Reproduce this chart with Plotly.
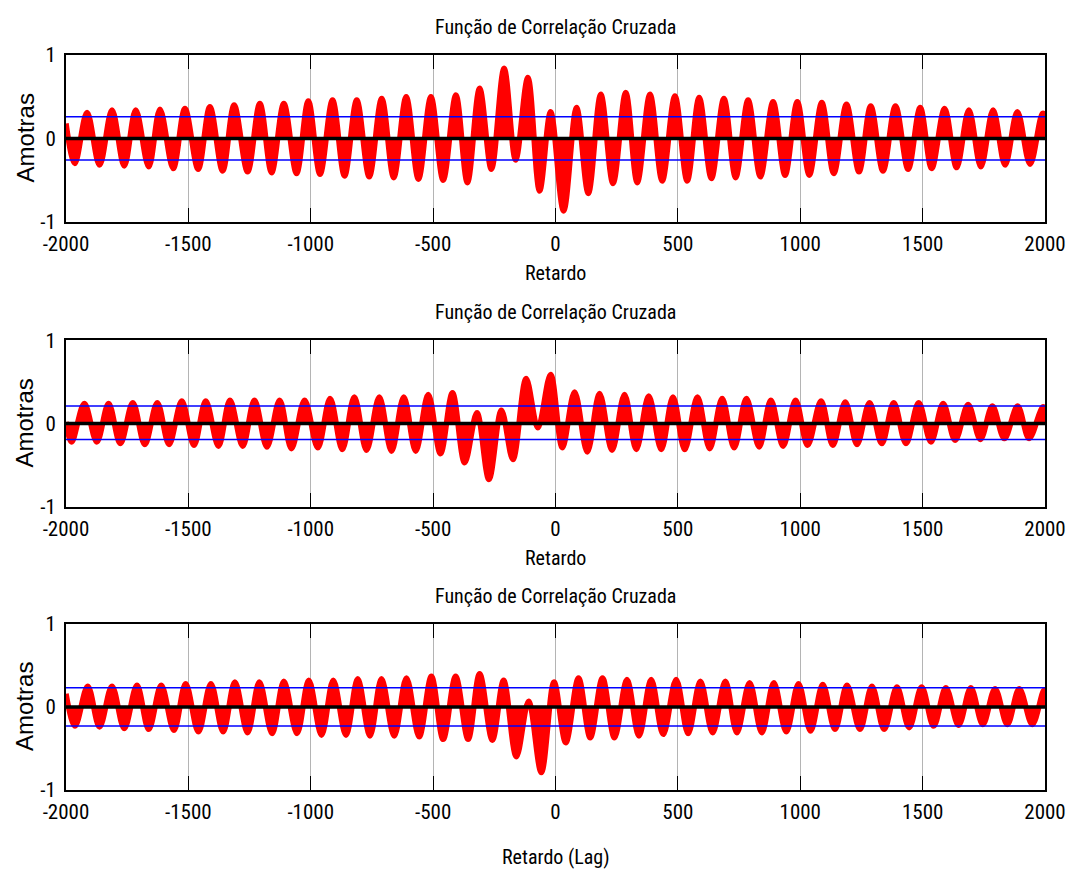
import plotly.graph_objects as go
from plotly.subplots import make_subplots

# ---------------- data (lag / correlation extremes) ----------------
lag_range = [-2000, 2000]
x_ticks = [-2000, -1500, -1000, -500, 0, 500, 1000, 1500, 2000]
x_tick_labels = ["-2000", "-1500", "-1000", "-500", "0", "500", "1000", "1500", "2000"]
y_ticks = [-1, 0, 1]
y_tick_labels = ["-1", "0", "1"]

p1_lags = [-2000, -1964, -1914, -1863, -1812, -1762, -1715, -1662, -1616, -1562, -1514, -1460,
           -1412, -1360, -1313, -1258, -1208, -1160, -1110, -1058, -1010, -962, -911, -862,
           -812, -761, -710, -661, -610, -560, -509, -459, -407, -360, -310, -262, -210, -163,
           -113, -65, -20, 33, 86, 134, 185, 235, 287, 334, 386, 436, 488, 538, 587, 637, 688,
           736, 787, 837, 889, 938, 988, 1037, 1088, 1137, 1189, 1240, 1288, 1338, 1389, 1441,
           1490, 1537, 1590, 1639, 1689, 1738, 1788, 1837, 1887, 1939, 1990, 2000]
p1_vals = [0.18, -0.30, 0.31, -0.32, 0.34, -0.33, 0.34, -0.34, 0.35, -0.36, 0.36, -0.37,
           0.38, -0.39, 0.40, -0.40, 0.42, -0.41, 0.42, -0.42, 0.45, -0.43, 0.46, -0.45,
           0.46, -0.46, 0.48, -0.47, 0.50, -0.49, 0.50, -0.50, 0.52, -0.53, 0.60, -0.37, 0.84, -0.26,
           0.73, -0.63, 0.32, -0.87, 0.37, -0.66, 0.53, -0.54, 0.55, -0.53, 0.53, -0.51, 0.51, -0.51, 0.49, -0.48, 0.48,
           -0.47, 0.46, -0.46, 0.44, -0.44, 0.44, -0.44, 0.43, -0.42, 0.41, -0.40, 0.39, -0.39, 0.39, -0.37,
           0.37, -0.36, 0.36, -0.35, 0.34, -0.34, 0.34, -0.32, 0.32, -0.31, 0.30, 0.29]
p1_bounds = [0.26, -0.26]

p2_lags = [-2000, -1977, -1925, -1874, -1826, -1778, -1727, -1678, -1627, -1579, -1527, -1477,
           -1429, -1377, -1330, -1278, -1230, -1179, -1127, -1079, -1025, -971, -921, -871,
           -822, -772, -720, -670, -620, -571, -520, -470, -421, -371, -321, -272, -221, -174,
           -120, -72, -20, 28, 78, 130, 180, 231, 282, 330, 381, 432, 480, 528, 580, 630, 681,
           730, 780, 832, 880, 930, 981, 1030, 1085, 1133, 1184, 1232, 1283, 1333, 1382, 1432,
           1484, 1534, 1584, 1633, 1686, 1736, 1785, 1834, 1888, 1935, 1990, 2000]
p2_vals = [0.02, -0.22, 0.24, -0.22, 0.24, -0.24, 0.25, -0.25, 0.25, -0.25, 0.27, -0.26,
           0.27, -0.27, 0.28, -0.27, 0.28, -0.28, 0.28, -0.30, 0.28, -0.29, 0.30, -0.31,
           0.32, -0.32, 0.32, -0.33, 0.32, -0.33, 0.35, -0.36, 0.37, -0.47, 0.13, -0.67, 0.16, -0.43,
           0.54, -0.05, 0.59, -0.29, 0.38, -0.34, 0.36, -0.32, 0.35, -0.31, 0.33, -0.31, 0.32, -0.31, 0.32, -0.30, 0.30,
           -0.29, 0.30, -0.28, 0.28, -0.27, 0.28, -0.26, 0.27, -0.26, 0.26, -0.25, 0.25, -0.24, 0.25, -0.24,
           0.25, -0.22, 0.24, -0.20, 0.23, -0.19, 0.21, -0.18, 0.21, -0.18, 0.20, 0.19]
p2_bounds = [0.21, -0.19]

p3_lags = [-2000, -1963, -1911, -1863, -1812, -1762, -1710, -1662, -1611, -1559, -1511, -1459,
           -1408, -1358, -1310, -1258, -1210, -1158, -1110, -1056, -1008, -956, -908, -856,
           -808, -758, -711, -659, -609, -557, -507, -459, -408, -357, -310, -258, -212, -160,
           -110, -58, -6, 42, 94, 142, 192, 241, 292, 341, 391, 440, 493, 542, 592, 642, 694,
           741, 793, 843, 892, 943, 993, 1042, 1092, 1142, 1191, 1244, 1293, 1343, 1395, 1445,
           1496, 1545, 1595, 1647, 1697, 1746, 1796, 1846, 1895, 1948, 1995, 2000]
p3_vals = [0.16, -0.23, 0.25, -0.24, 0.25, -0.26, 0.26, -0.27, 0.26, -0.28, 0.28, -0.30,
           0.28, -0.30, 0.30, -0.31, 0.30, -0.32, 0.31, -0.32, 0.32, -0.34, 0.32, -0.34,
           0.34, -0.35, 0.34, -0.35, 0.35, -0.36, 0.37, -0.39, 0.37, -0.39, 0.40, -0.40, 0.32, -0.60,
           0.07, -0.79, 0.30, -0.43, 0.35, -0.37, 0.35, -0.37, 0.33, -0.35, 0.33, -0.33, 0.33, -0.32, 0.31, -0.31, 0.31,
           -0.31, 0.29, -0.31, 0.29, -0.30, 0.28, -0.29, 0.27, -0.27, 0.26, -0.27, 0.25, -0.27, 0.24, -0.25,
           0.24, -0.23, 0.23, -0.22, 0.23, -0.21, 0.22, -0.21, 0.22, -0.21, 0.20, 0.19]
p3_bounds = [0.23, -0.23]

panel_title = "Função de Correlação Cruzada"
x_titles = ["Retardo", "Retardo", "Retardo (Lag)"]
y_title = "Amotras"

panels = [(p1_lags, p1_vals, p1_bounds), (p2_lags, p2_vals, p2_bounds), (p3_lags, p3_vals, p3_bounds)]

# ---------------- figure ----------------
NARROW = "Liberation Sans Narrow, Arial Narrow, Roboto Condensed, Liberation Sans, Arial, sans-serif"
fig = make_subplots(rows=3, cols=1)

domains = [[0.773, 1.0], [0.385, 0.612], [0.0, 0.226]]

for i, (lags, vals, bounds) in enumerate(panels):
    r = i + 1
    fig.add_trace(go.Scatter(x=lags, y=vals, mode="lines",
                             line=dict(color="#ff0000", width=5.5, shape="spline", smoothing=1),
                             fill="tozeroy", fillcolor="#ff0000", hoverinfo="skip", showlegend=False), row=r, col=1)
    for b in bounds:
        fig.add_trace(go.Scatter(x=lag_range, y=[b, b], mode="lines", line=dict(color="#0000ff", width=1.5),
                                 hoverinfo="skip", showlegend=False), row=r, col=1)
    fig.add_trace(go.Scatter(x=lag_range, y=[0, 0], mode="lines", line=dict(color="#000000", width=3.5),
                             hoverinfo="skip", showlegend=False), row=r, col=1)

    xa = "xaxis" if r == 1 else f"xaxis{r}"
    ya = "yaxis" if r == 1 else f"yaxis{r}"
    fig.layout[xa].update(range=lag_range, tickvals=x_ticks, ticktext=x_tick_labels, ticks="inside", ticklen=14,
                          tickcolor="black", tickwidth=1, showline=True, linecolor="black", linewidth=2, mirror="ticks",
                          showgrid=True, gridcolor="#b4b4b4", gridwidth=1, zeroline=False, automargin=False,
                          ticklabeloverflow="allow", ticklabelstandoff=2,
                          tickfont=dict(family=NARROW, size=21, color="black"), domain=[0, 1])
    fig.layout[ya].update(range=[-1, 1], tickvals=y_ticks, ticktext=y_tick_labels, ticks="inside", ticklen=8,
                          tickcolor="black", showline=True, linecolor="black", linewidth=2, mirror="ticks",
                          showgrid=False, zeroline=False, domain=domains[i], automargin=False,
                          ticklabelstandoff=4,
                          tickfont=dict(family=NARROW, size=21, color="black"))

    xref = "x domain" if r == 1 else f"x{r} domain"
    yref = "y domain" if r == 1 else f"y{r} domain"
    fig.add_annotation(text=panel_title, xref=xref, yref=yref, x=0.5, y=1, yanchor="middle", yshift=28,
                       showarrow=False, font=dict(family=NARROW, size=20, color="black"))
    fig.add_annotation(text=x_titles[i], xref=xref, yref=yref, x=0.5, y=0, yanchor="middle",
                       yshift=(-51 if r < 3 else -67), showarrow=False,
                       font=dict(family=NARROW, size=20, color="black"))
    fig.add_annotation(text=y_title, xref=xref, yref=yref, x=0, y=0.5, xanchor="center", yanchor="middle",
                       xshift=-41, textangle=-90, showarrow=False,
                       font=dict(family="Liberation Sans, Arial, sans-serif", size=24, color="black"))

fig.update_layout(width=1070, height=871, autosize=False, margin=dict(l=66, r=25, t=55, b=81, autoexpand=False),
                  paper_bgcolor="white", plot_bgcolor="white", showlegend=False)

# remove the browser's default 8 px body margin so the figure fills the window exactly
fig.write_html("out.html", config={"displayModeBar": False, "responsive": False},
               post_script="document.body.style.margin='0';document.body.style.overflow='hidden';")
